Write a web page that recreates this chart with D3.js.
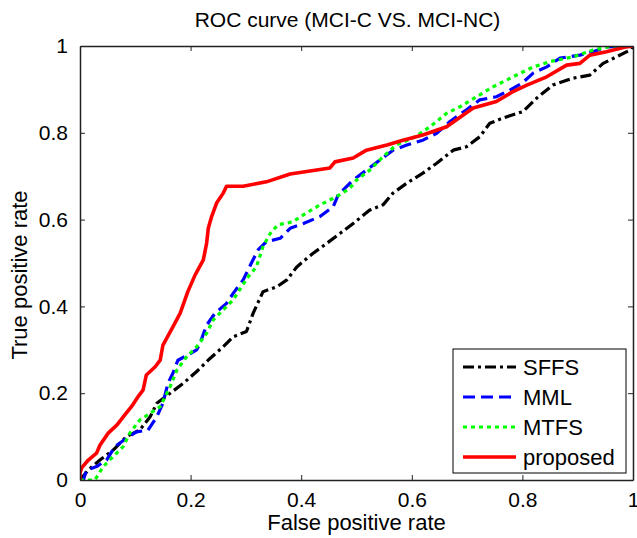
<!DOCTYPE html>
<html lang="en">

<head>
  <meta charset="UTF-8">
  <title>ROC curve</title>
  <style>
    body {
      margin: 0;
      background: white;
    }

    svg {
      display: block;
      font-family: "Liberation Sans", Arial, sans-serif;
    }

    .tick text {
      font-size: 21px;
      fill: black;
    }

    .legend text {
      font-size: 22px;
    }
  </style>
</head>

<body>
  <div id="chart"></div>
</body>
<script src="https://d3js.org/d3.v7.min.js"></script>

<script>
  // values
  const sffsX = [0, 0.015, 0.036, 0.06, 0.084, 0.108, 0.127, 0.139, 0.163, 0.187, 0.211, 0.235, 0.259, 0.277, 0.301, 0.313, 0.331, 0.356, 0.374, 0.392, 0.421, 0.446, 0.47, 0.494, 0.524, 0.548, 0.566, 0.591, 0.62, 0.645, 0.675, 0.699, 0.723, 0.741, 0.765, 0.801, 0.826, 0.855, 0.892, 0.922, 0.946, 0.97, 0.995, 1]
  const sffsY = [0, 0.023, 0.046, 0.069, 0.1, 0.115, 0.146, 0.177, 0.2, 0.223, 0.25, 0.28, 0.307, 0.33, 0.342, 0.384, 0.434, 0.445, 0.461, 0.491, 0.522, 0.545, 0.568, 0.591, 0.622, 0.634, 0.661, 0.684, 0.707, 0.73, 0.76, 0.768, 0.791, 0.822, 0.834, 0.849, 0.88, 0.91, 0.926, 0.933, 0.96, 0.975, 0.991, 1]

  const mmlX = [0, 0.006, 0.012, 0.03, 0.048, 0.063, 0.084, 0.102, 0.123, 0.139, 0.15, 0.159, 0.168, 0.177, 0.195, 0.211, 0.217, 0.229, 0.244, 0.265, 0.277, 0.295, 0.31, 0.322, 0.337, 0.362, 0.38, 0.404, 0.434, 0.458, 0.467, 0.494, 0.518, 0.542, 0.566, 0.591, 0.62, 0.645, 0.669, 0.699, 0.723, 0.753, 0.778, 0.799, 0.82, 0.844, 0.868, 0.904, 0.928, 0.952, 1]
  const mmlY = [0, 0, 0.023, 0.031, 0.046, 0.077, 0.096, 0.111, 0.115, 0.146, 0.177, 0.223, 0.246, 0.276, 0.288, 0.3, 0.315, 0.357, 0.384, 0.407, 0.43, 0.461, 0.5, 0.53, 0.549, 0.557, 0.58, 0.591, 0.607, 0.63, 0.657, 0.691, 0.714, 0.737, 0.76, 0.772, 0.783, 0.799, 0.826, 0.853, 0.876, 0.883, 0.899, 0.914, 0.938, 0.952, 0.972, 0.979, 0.987, 0.998, 1]

  const mtfsX = [0, 0.027, 0.042, 0.06, 0.078, 0.09, 0.108, 0.127, 0.145, 0.163, 0.175, 0.193, 0.211, 0.229, 0.241, 0.259, 0.277, 0.292, 0.304, 0.319, 0.331, 0.344, 0.358, 0.385, 0.404, 0.434, 0.464, 0.488, 0.5, 0.524, 0.548, 0.572, 0.602, 0.633, 0.663, 0.687, 0.717, 0.747, 0.783, 0.82, 0.85, 0.892, 0.928, 0.964, 1]
  const mtfsY = [0, 0, 0.031, 0.054, 0.077, 0.108, 0.138, 0.154, 0.169, 0.215, 0.253, 0.284, 0.307, 0.338, 0.369, 0.392, 0.415, 0.445, 0.468, 0.491, 0.538, 0.568, 0.588, 0.595, 0.611, 0.634, 0.653, 0.672, 0.691, 0.714, 0.745, 0.772, 0.788, 0.814, 0.845, 0.86, 0.883, 0.906, 0.929, 0.952, 0.964, 0.975, 0.991, 1, 1]

  const propX = [0, 0, 0.003, 0.015, 0.03, 0.036, 0.051, 0.067, 0.081, 0.093, 0.105, 0.114, 0.12, 0.136, 0.145, 0.15, 0.168, 0.181, 0.195, 0.208, 0.223, 0.229, 0.232, 0.238, 0.247, 0.259, 0.265, 0.295, 0.337, 0.38, 0.452, 0.461, 0.494, 0.518, 0.555, 0.584, 0.62, 0.663, 0.693, 0.711, 0.753, 0.783, 0.808, 0.844, 0.88, 0.904, 0.922, 0.952, 0.988, 1]
  const propY = [0, 0.016, 0.028, 0.046, 0.062, 0.08, 0.108, 0.127, 0.15, 0.169, 0.192, 0.207, 0.242, 0.261, 0.276, 0.311, 0.353, 0.384, 0.434, 0.472, 0.507, 0.546, 0.58, 0.607, 0.638, 0.661, 0.677, 0.677, 0.687, 0.705, 0.719, 0.733, 0.742, 0.76, 0.772, 0.783, 0.795, 0.814, 0.841, 0.857, 0.872, 0.895, 0.91, 0.929, 0.956, 0.96, 0.979, 0.987, 0.998, 1]

  const seriesNames = ['SFFS', 'MML', 'MTFS', 'proposed']
  const tickValues = [0, 0.2, 0.4, 0.6, 0.8, 1]
  const tickLabels = ['0', '0.2', '0.4', '0.6', '0.8', '1']

  const W = 637, H = 538
  const m = { left: 80, right: 4, top: 46, bottom: 58 }
  const w = W - m.left - m.right, h = H - m.top - m.bottom

  const styles = {
    SFFS: { color: '#000000', dash: '11,4,3,4' },
    MML: { color: '#0000ff', dash: '12,6' },
    MTFS: { color: '#00ff00', dash: '4,4' },
    proposed: { color: '#ff0000', dash: null }
  }

  function toPoints(xs, ys) {
    return xs.map((x, i) => ({ x: x, y: ys[i] }))
  }

  const series = [
    { name: 'SFFS', pts: toPoints(sffsX, sffsY) },
    { name: 'MML', pts: toPoints(mmlX, mmlY) },
    { name: 'MTFS', pts: toPoints(mtfsX, mtfsY) },
    { name: 'proposed', pts: toPoints(propX, propY) }
  ]

  const xScale = d3.scaleLinear().domain([0, 1]).range([0, w])
  const yScale = d3.scaleLinear().domain([0, 1]).range([h, 0])

  const svgParent = d3.select('#chart').append('svg')
    .attr('width', W)
    .attr('height', H)

  svgParent.append('defs').append('clipPath')
    .attr('id', 'clip')
    .append('rect')
    .attr('width', w)
    .attr('height', h)

  const svg = svgParent.append('g')
    .attr('transform', `translate(${m.left}, ${m.top})`)

  // title
  svgParent.append('text')
    .attr('x', m.left + w / 2 - 9)
    .attr('y', 27)
    .attr('text-anchor', 'middle')
    .style('font-size', '21px')
    .text('ROC curve (MCI-C VS. MCI-NC)')

  // curves
  const line = d3.line()
    .x(d => xScale(d.x))
    .y(d => yScale(d.y))

  svg.append('g')
    .attr('clip-path', 'url(#clip)')
    .selectAll('path')
    .data(series)
    .enter()
    .append('path')
    .attr('d', d => line(d.pts))
    .attr('fill', 'none')
    .attr('stroke', d => styles[d.name].color)
    .attr('stroke-width', d => d.name === 'proposed' ? 3.6 : 3.2)
    .attr('stroke-dasharray', d => styles[d.name].dash)
    .attr('stroke-linejoin', 'round')

  // axes, ticks inside like matlab box
  const tickFmt = (d, i) => tickLabels[i]
  svg.append('g')
    .attr('transform', `translate(0, ${h})`)
    .call(d3.axisBottom(xScale).tickValues(tickValues).tickFormat(tickFmt).tickSizeInner(-5).tickSizeOuter(0).tickPadding(12))
  svg.append('g')
    .call(d3.axisLeft(yScale).tickValues(tickValues).tickFormat(tickFmt).tickSizeInner(-5).tickSizeOuter(0).tickPadding(12))
  svg.append('g')
    .call(d3.axisTop(xScale).tickValues(tickValues).tickFormat('').tickSizeInner(-5).tickSizeOuter(0))
  svg.append('g')
    .attr('transform', `translate(${w}, 0)`)
    .call(d3.axisRight(yScale).tickValues(tickValues).tickFormat('').tickSizeInner(-5).tickSizeOuter(0))

  svg.selectAll('.domain').attr('stroke', '#222').attr('stroke-width', 1.5)
  svg.selectAll('.tick line').attr('stroke', '#222')

  // axis labels
  svg.append('text')
    .attr('x', w / 2)
    .attr('y', h + 50)
    .attr('text-anchor', 'middle')
    .style('font-size', '22px')
    .text('False positive rate')

  svg.append('text')
    .attr('transform', `translate(${-m.left + 27}, ${h / 2 + 12}) rotate(-90)`)
    .attr('text-anchor', 'middle')
    .style('font-size', '22px')
    .text('True positive rate')

  // legend
  const legend = svg.append('g')
    .attr('class', 'legend')
    .attr('transform', `translate(${453 - m.left}, ${349 - m.top})`)

  legend.append('rect')
    .attr('width', 173)
    .attr('height', 124)
    .attr('fill', 'white')
    .attr('stroke', 'black')
    .attr('stroke-width', 1)

  const item = legend.selectAll('.item')
    .data(seriesNames)
    .enter()
    .append('g')
    .attr('class', 'item')
    .attr('transform', (d, i) => `translate(0, ${18 + i * 30})`)

  item.append('line')
    .attr('x1', 10)
    .attr('x2', 63)
    .attr('stroke', d => styles[d].color)
    .attr('stroke-width', d => d === 'proposed' ? 3.6 : 3.2)
    .attr('stroke-dasharray', d => styles[d].dash)

  item.append('text')
    .attr('x', 70)
    .attr('y', 8)
    .text(d => d)
</script>

</html>
